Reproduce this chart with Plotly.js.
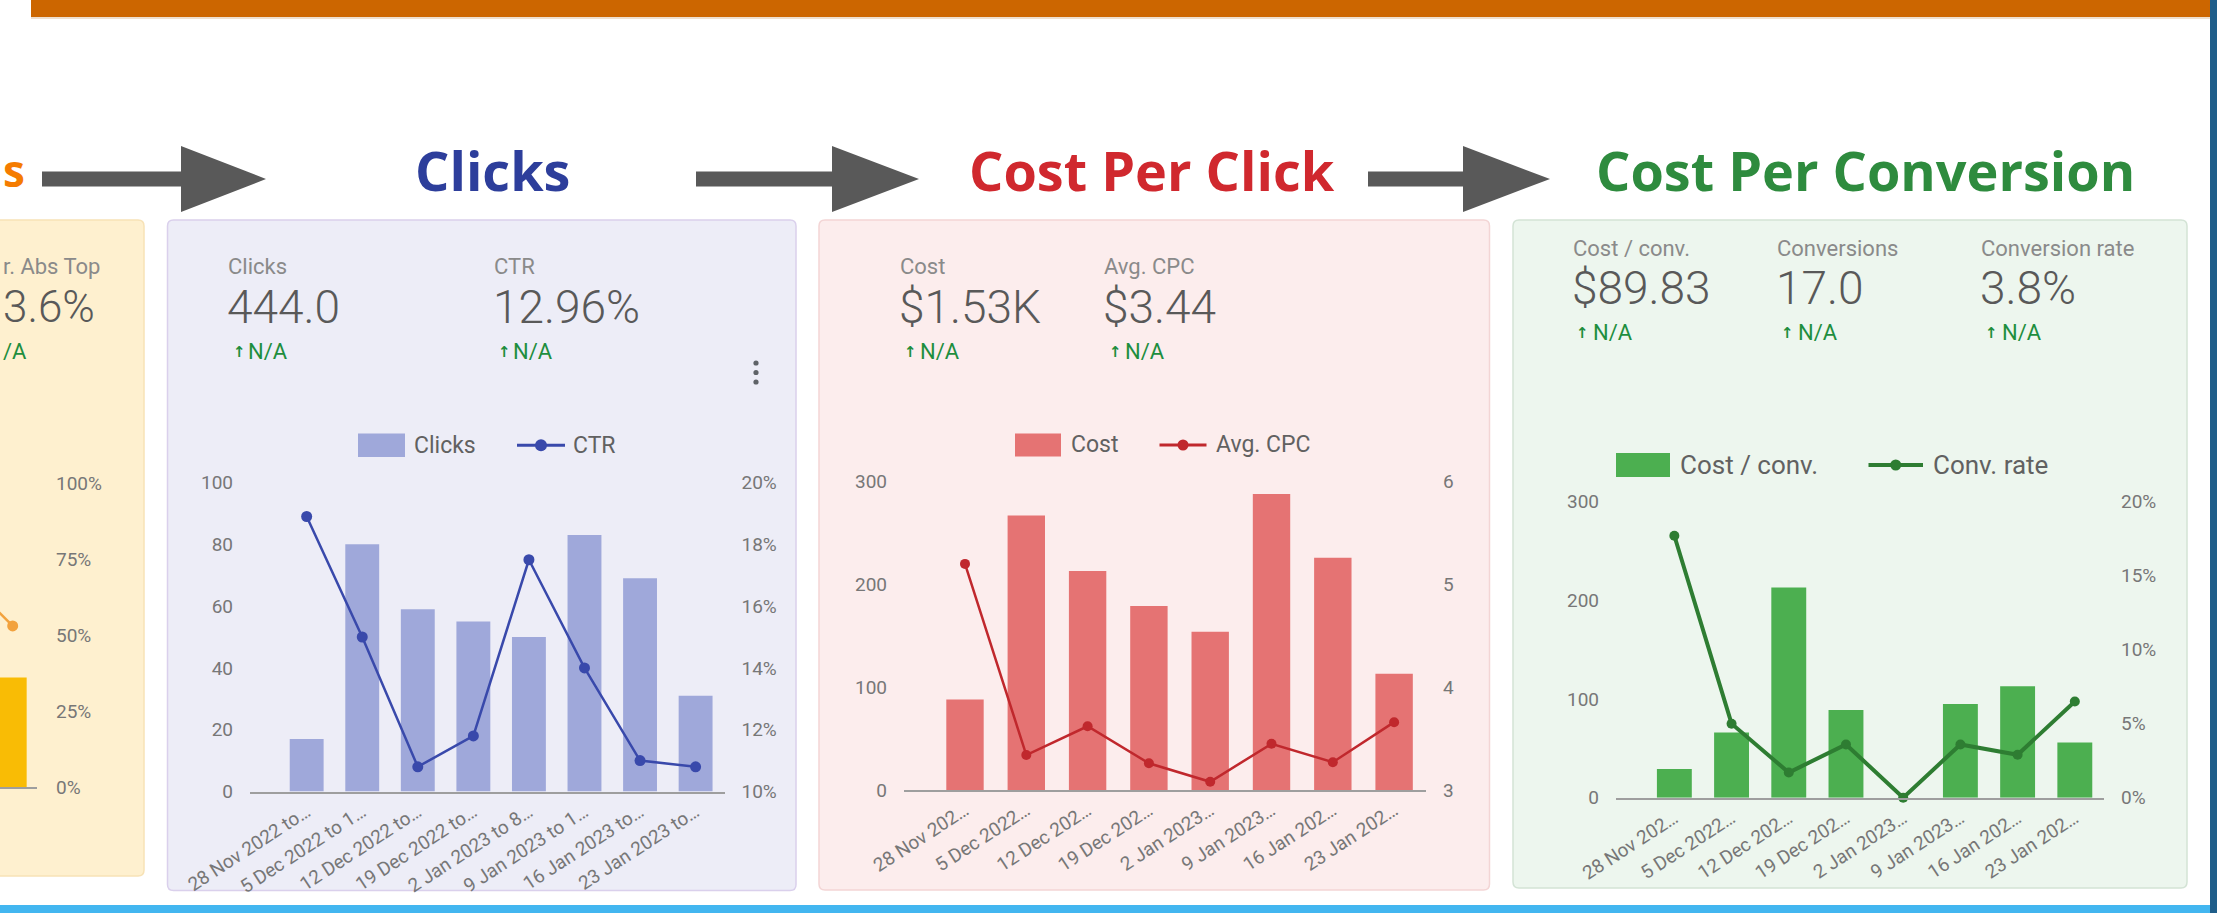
<!DOCTYPE html>
<html>
<head>
<meta charset="utf-8">
<script src="https://cdn.plot.ly/plotly-3.0.1.min.js"></script>
<style>
html,body{margin:0;padding:0;background:#ffffff;overflow:hidden;}
#chart{width:2217px;height:913px;}
</style>
</head>
<body>
<div id="chart"></div>
<script>
// ---------------- DATA ----------------
const weekLabels = ["28 Nov 2022 to…", "5 Dec 2022 to 1…", "12 Dec 2022 to…", "19 Dec 2022 to…",
                    "2 Jan 2023 to 8…", "9 Jan 2023 to 1…", "16 Jan 2023 to…", "23 Jan 2023 to…"];
const weekLabelsShort = ["28 Nov 202…", "5 Dec 2022…", "12 Dec 202…", "19 Dec 202…",
                         "2 Jan 2023…", "9 Jan 2023…", "16 Jan 202…", "23 Jan 202…"];
const clicks = [17, 80, 59, 55, 50, 83, 69, 31];
const ctr = [0.189, 0.150, 0.108, 0.118, 0.175, 0.140, 0.110, 0.108];
const cost = [88, 267, 213, 179, 154, 288, 226, 113];
const avgCpc = [5.20, 3.34, 3.62, 3.26, 3.08, 3.45, 3.27, 3.66];
const costPerConv = [29, 66, 213, 89, null, 95, 113, 56];
const convRate = [0.177, 0.050, 0.017, 0.036, 0.0, 0.036, 0.029, 0.065];
// partially visible panel on the far left (only its last weeks are in view)
const absTopWeeks = ["16 Jan 2023 to…", "23 Jan 2023 to…"];
const absTopBars = [null, 0.36];
const absTopRate = [0.68, 0.53];

// section titles (the first one is only partly in view in the reference)
const sectionTitles = ["s", "Clicks", "Cost Per Click", "Cost Per Conversion"];
// scorecards
const clicksKpiLabels = ["Clicks", "CTR"];
const clicksKpiValues = ["444.0", "12.96%"];
const cpcKpiLabels = ["Cost", "Avg. CPC"];
const cpcKpiValues = ["$1.53K", "$3.44"];
const convKpiLabels = ["Cost / conv.", "Conversions", "Conversion rate"];
const convKpiValues = ["$89.83", "17.0", "3.8%"];
const absTopKpiLabels = ["r. Abs Top"];
const absTopKpiValues = ["3.6%"];
const absTopDelta = "/A";
const deltaText = "N/A";
// legend names
const clicksSeries = ["Clicks", "CTR"];
const cpcSeries = ["Cost", "Avg. CPC"];
const convSeries = ["Cost / conv.", "Conv. rate"];

// ---------------- HELPERS ----------------
const W = 2217, H = 913;
const X = px => px / W;
const Y = py => 1 - py / H;
const ROBOTO = "Roboto, 'Noto Sans', sans-serif";
const OPEN = "'Open Sans', sans-serif";
const LBL = "#8a8a8a", NUM = "#595959", GREEN = "#1e8e3e", TICK = "#777777", AXC = "#9e9e9e", LEG = "#616161";

function ann(text, x, y, size, color, xanchor, family, weight) {
  return {text: text, x: X(x), y: Y(y), xref: "paper", yref: "paper",
          xanchor: xanchor || "left", yanchor: "middle", showarrow: false,
          font: {family: family || ROBOTO, size: size, color: color, weight: weight || 400}};
}
function rect(x0, y0, x1, y1, fill, layer) {
  return {type: "rect", xref: "paper", yref: "paper", x0: X(x0), x1: X(x1), y0: Y(y1), y1: Y(y0),
          fillcolor: fill, line: {width: 0}, layer: layer || "below"};
}
function rrect(x0, y0, x1, y1, r, fill, border) {
  const rx = r / W, ry = r / H;
  const L = X(x0), R = X(x1), T = Y(y0), B = Y(y1);
  const d = `M${L + rx},${T} L${R - rx},${T} Q${R},${T} ${R},${T - ry} L${R},${B + ry} Q${R},${B} ${R - rx},${B} ` +
            `L${L + rx},${B} Q${L},${B} ${L},${B + ry} L${L},${T - ry} Q${L},${T} ${L + rx},${T} Z`;
  return {type: "path", xref: "paper", yref: "paper", path: d, fillcolor: fill,
          line: {color: border, width: 1.5}, layer: "below"};
}
function arrowShape(x0, xb, xt, yc, sh, hh, color) {
  const pts = [[x0, yc - sh], [xb, yc - sh], [xb, yc - hh], [xt, yc], [xb, yc + hh], [xb, yc + sh], [x0, yc + sh]];
  const d = "M" + pts.map(p => X(p[0]) + "," + Y(p[1])).join(" L") + " Z";
  return {type: "path", xref: "paper", yref: "paper", path: d, fillcolor: color, line: {width: 0}, layer: "above"};
}
function circ(cx, cy, r, color) {
  return {type: "circle", xref: "paper", yref: "paper", x0: X(cx - r), x1: X(cx + r), y0: Y(cy + r), y1: Y(cy - r),
          fillcolor: color, line: {width: 0}, layer: "above"};
}
function hline(x0, x1, y, color, w) {
  return {type: "line", xref: "paper", yref: "paper", x0: X(x0), x1: X(x1), y0: Y(y), y1: Y(y),
          line: {color: color, width: w}, layer: "above"};
}

// ---------------- TRACES ----------------
const traces = [
  {type: "bar", x: absTopWeeks, y: absTopBars, xaxis: "x", yaxis: "y", width: 0.61,
   marker: {color: "#F9BC05"}, hoverinfo: "skip"},
  {type: "scatter", mode: "lines+markers", x: absTopWeeks, y: absTopRate, xaxis: "x", yaxis: "y",
   line: {color: "#F2A23E", width: 2.5}, marker: {color: "#F2A23E", size: 11}, cliponaxis: false},

  {type: "bar", name: clicksSeries[0], x: weekLabels, y: clicks, xaxis: "x2", yaxis: "y2", width: 0.61,
   marker: {color: "#9FA8DA"}},
  {type: "scatter", name: clicksSeries[1], mode: "lines+markers", x: weekLabels, y: ctr, xaxis: "x2", yaxis: "y3",
   line: {color: "#3949AB", width: 2.5}, marker: {color: "#3949AB", size: 11}, cliponaxis: false},

  {type: "bar", name: cpcSeries[0], x: weekLabelsShort, y: cost, xaxis: "x3", yaxis: "y4", width: 0.61,
   marker: {color: "#E57373"}},
  {type: "scatter", name: cpcSeries[1], mode: "lines+markers", x: weekLabelsShort, y: avgCpc, xaxis: "x3", yaxis: "y5",
   line: {color: "#C0282D", width: 2.5}, marker: {color: "#C0282D", size: 10}, cliponaxis: false},

  {type: "bar", name: convSeries[0], x: weekLabelsShort, y: costPerConv, xaxis: "x4", yaxis: "y6", width: 0.61,
   marker: {color: "#4CAF50"}},
  {type: "scatter", name: convSeries[1], mode: "lines+markers", x: weekLabelsShort, y: convRate, xaxis: "x4", yaxis: "y7",
   line: {color: "#2E7D32", width: 4}, marker: {color: "#2E7D32", size: 10}, cliponaxis: false}
];

// ---------------- AXES ----------------
const tickFont = {family: ROBOTO, size: 19, color: TICK};
function xAxis(domain, anchor, range, showLabels) {
  return {domain: [X(domain[0]), X(domain[1])], anchor: anchor, type: "category", range: range,
          showgrid: false, zeroline: false, showline: true, linecolor: AXC, linewidth: 2,
          ticks: "", showticklabels: showLabels, tickangle: -33, tickfont: tickFont, fixedrange: true};
}
function yAxis(top, bottom, anchor, range, dtick, extra) {
  const a = {domain: [Y(bottom), Y(top)], anchor: anchor, range: range, dtick: dtick, tick0: range[0],
             showgrid: false, zeroline: false, showline: false, ticks: "", tickfont: tickFont,
             ticklabelstandoff: 16, fixedrange: true};
  return Object.assign(a, extra || {});
}

const layout = {
  width: W, height: H, margin: {l: 0, r: 0, t: 0, b: 0},
  paper_bgcolor: "#ffffff", plot_bgcolor: "rgba(0,0,0,0)", showlegend: false,
  font: {family: ROBOTO},
  bargap: 0.39,

  xaxis: xAxis([0, 37], "y", [0.724, 1.53], false),
  yaxis: yAxis(483, 787, "x", [0, 1], 0.25, {side: "right", tickformat: ".0%", ticklabelstandoff: 18}),

  xaxis2: xAxis([250, 724.5], "y2", [-1.02, 7.52], true),
  yaxis2: yAxis(482.5, 791.5, "x2", [0, 100], 20),
  yaxis3: yAxis(482.5, 791.5, "x2", [0.10, 0.20], 0.02, {overlaying: "y2", side: "right", tickformat: ".0%"}),

  xaxis3: xAxis([904, 1426], "y4", [-0.995, 7.52], true),
  yaxis4: yAxis(481.7, 790, "x3", [0, 300], 100),
  yaxis5: yAxis(481.7, 790, "x3", [3, 6], 1, {overlaying: "y4", side: "right"}),

  xaxis4: xAxis([1616, 2104], "y6", [-1.02, 7.51], true),
  yaxis6: yAxis(501.7, 797.7, "x4", [0, 300], 100),
  yaxis7: yAxis(501.7, 797.7, "x4", [0, 0.20], 0.05, {overlaying: "y6", side: "right", tickformat: ".0%"}),

  shapes: [],
  annotations: []
};

// ---------------- DECORATION ----------------
const S = layout.shapes, A = layout.annotations;
// frame strips
S.push(rect(31, 0, 2210, 17, "#CC6600", "above"));
S.push(rect(31, 17, 2210, 19, "#EEDFCF", "below"));
S.push(rect(0, 905, 2217, 913, "#42B6F0", "above"));
S.push(rect(2210, 0, 2217, 913, "#1F5E8A", "above"));
// panels
S.push(rrect(-20, 220, 144, 876, 6, "#FEF0CF", "#F7E2B6"));
S.push(rrect(167.5, 220, 796, 890.5, 6, "#EDEDF7", "#DAD0EC"));
S.push(rrect(819, 220, 1489.5, 890, 6, "#FCEDED", "#F3D5D5"));
S.push(rrect(1513, 220, 2187, 888, 6, "#EDF6EE", "#D3E3D5"));
// arrows
S.push(arrowShape(42, 181, 266, 179, 7.5, 33, "#595959"));
S.push(arrowShape(696, 832, 919, 179, 7.5, 33, "#595959"));
S.push(arrowShape(1368, 1463, 1550, 179, 7.5, 33, "#595959"));
// section titles
A.push(ann(sectionTitles[0], 1, 170, 44, "#F57C00", "left", OPEN, 700));
A.push(ann(sectionTitles[1], 492, 170, 54, "#2D3E9B", "center", OPEN, 700));
A.push(ann(sectionTitles[2], 1152, 170, 54, "#D0282E", "center", OPEN, 700));
A.push(ann(sectionTitles[3], 1865, 170, 54, "#2E8B3E", "center", OPEN, 700));

// scorecards
function kpi(label, value, x, yL, yV, align) {
  A.push(ann(label, x, yL, 22, LBL, align));
  A.push(ann(value, x - 1, yV, 46, NUM, align, ROBOTO, 300));
}
function delta(xArrow, xText, y) {
  A.push(ann("↑", xArrow, y + 1, 15, GREEN, "left", "'DejaVu Sans', sans-serif", 700));
  A.push(ann(deltaText, xText, y, 22, GREEN));
}
// far-left partial panel (only its right part is in view)
A.push(ann(absTopKpiLabels[0], 1, 267, 22, LBL, "left"));
A.push(ann(absTopKpiValues[0], 1, 307, 44, NUM, "left", ROBOTO, 300));
A.push(ann(absTopDelta, 1, 351, 22, GREEN, "left"));
// Clicks panel
kpi(clicksKpiLabels[0], clicksKpiValues[0], 226, 267, 307);
kpi(clicksKpiLabels[1], clicksKpiValues[1], 492, 267, 307);
delta(231, 246, 351); delta(496, 511, 351);
S.push(circ(756, 363, 2.6, "#5f6368"), circ(756, 372.5, 2.6, "#5f6368"), circ(756, 382, 2.6, "#5f6368"));
// CPC panel
kpi(cpcKpiLabels[0], cpcKpiValues[0], 898, 267, 307);
kpi(cpcKpiLabels[1], cpcKpiValues[1], 1102, 267, 307);
delta(902, 918, 351); delta(1107, 1123, 351);
// Conversion panel
kpi(convKpiLabels[0], convKpiValues[0], 1571, 248.5, 288);
kpi(convKpiLabels[1], convKpiValues[1], 1775, 248.5, 288);
kpi(convKpiLabels[2], convKpiValues[2], 1979, 248.5, 288);
delta(1574, 1591, 332); delta(1779, 1796, 332); delta(1983, 2000, 332);

// custom legends
function legend(boxX0, boxX1, boxY0, boxY1, barColor, name1, t1x, lx0, lx1, lineColor, lw, mr, name2, t2x, size) {
  const cy = (boxY0 + boxY1) / 2;
  S.push(rect(boxX0, boxY0, boxX1, boxY1, barColor, "above"));
  S.push(hline(lx0, lx1, cy, lineColor, lw));
  S.push(circ((lx0 + lx1) / 2, cy, mr, lineColor));
  A.push(ann(name1, t1x, cy, size, LEG));
  A.push(ann(name2, t2x, cy, size, LEG));
}
legend(358, 405, 433.5, 457, "#9FA8DA", clicksSeries[0], 412, 517, 565, "#3949AB", 3, 6, clicksSeries[1], 571, 23);
legend(1015, 1061, 433.5, 456.5, "#E57373", cpcSeries[0], 1069, 1159.5, 1206.5, "#C0282D", 3, 5.5, cpcSeries[1], 1214, 23);
legend(1616, 1670, 453, 477, "#4CAF50", convSeries[0], 1678, 1868.5, 1923, "#2E7D32", 4, 5.5, convSeries[1], 1931, 26);

Plotly.newPlot("chart", traces, layout, {staticPlot: true, displayModeBar: false});
</script>
</body>
</html>
